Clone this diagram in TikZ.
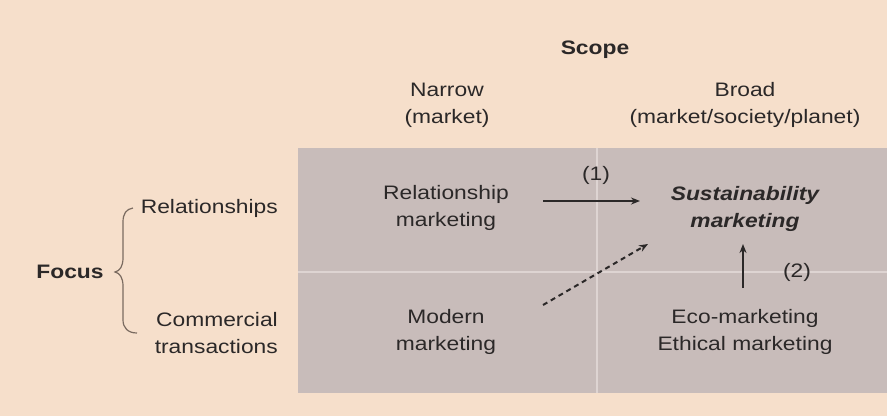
\documentclass[tikz,border=0pt]{standalone}
\usepackage{fontspec}
\setmainfont{Liberation Sans}[FakeStretch=1.17]
\usetikzlibrary{arrows.meta}
\definecolor{peach}{HTML}{F6DFCB}
\definecolor{cellgray}{HTML}{C8BCBA}
\definecolor{gridline}{HTML}{DED4D2}
\definecolor{ink}{HTML}{2B2828}
\definecolor{bracecol}{HTML}{7A6B60}
\tikzset{
  txt/.style={inner sep=0pt, text=ink, align=center, font={\fontsize{19.5}{27}\selectfont}},
  boldtxt/.style={txt, font={\fontsize{19.5}{27}\selectfont\bfseries}},
  sustxt/.style={txt, font={\fontsize{19.5}{27}\selectfont\bfseries\itshape}},
  arr/.style={draw=ink, line width=2pt, -{Stealth[length=9pt,width=7pt]}},
  dasharr/.style={arr, dash pattern=on 5pt off 4pt},
}
\begin{document}
\begin{tikzpicture}[x=1pt,y=-1pt]
\fill[peach] (0,0) rectangle (887,416);
\useasboundingbox (0,0) rectangle (887,416);
\fill[cellgray] (298,148) rectangle (887,393);
\draw[gridline, line width=2pt] (597,148) -- (597,393);
\draw[gridline, line width=2pt] (298,272) -- (887,272);

\node[boldtxt] (scope) at (595,50) {Scope};
\node[txt] (narrow) at (447,105) {Narrow\\(market)};
\node[txt] (broad) at (745,105) {Broad\\(market/society/planet)};

\node[boldtxt] (focus) at (70,272) {Focus};
\node[txt, anchor=east] (rel) at (278,208) {Relationships};
\node[txt, anchor=east, align=right] (comm) at (278,333) {Commercial\\transactions};
\draw[bracecol, line width=1.2pt] (133,208) .. controls (126,209) and (123,214) .. (123,222) -- (123,258) .. controls (123,266) and (120,271) .. (115,272) .. controls (120,273) and (123,278) .. (123,286) -- (123,320) .. controls (123,328) and (128,333) .. (137,333);

\node[txt] (relm) at (446,208) {Relationship\\marketing};
\node[sustxt] (sus) at (745,209) {Sustainability\\marketing};
\node[txt] (mod) at (446,332) {Modern\\marketing};
\node[txt] (eco) at (745,332) {Eco-marketing\\Ethical marketing};

\coordinate (a1s) at (543,201);
\coordinate (a1e) at (640,201);
\coordinate (a2s) at (743,288);
\coordinate (a2e) at (743,244);
\coordinate (a3s) at (543,305);
\coordinate (a3e) at (648,244);
\draw[arr] (a1s) -- (a1e);
\draw[arr] (a2s) -- (a2e);
\draw[dasharr] (a3s) -- (a3e);
\node[txt] (l1) at (596,175) {(1)};
\node[txt] (l2) at (797,272) {(2)};
\end{tikzpicture}
\end{document}
